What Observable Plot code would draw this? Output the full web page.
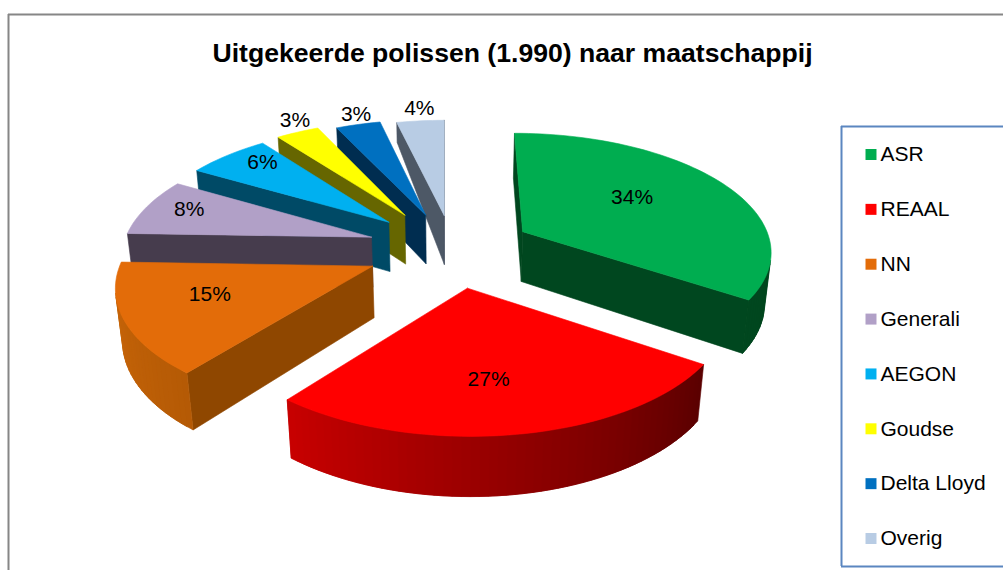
<!DOCTYPE html>
<html><head><meta charset="utf-8">
<style>html,body{margin:0;padding:0;background:#fff}svg{display:block}</style>
<script src="https://cdn.jsdelivr.net/npm/d3@7"></script>
<script src="https://cdn.jsdelivr.net/npm/@observablehq/plot@0.6"></script>
</head><body><div id="chart"></div>
<script>
const titleText = "Uitgekeerde polissen (1.990) naar maatschappij";
const names = ["ASR","REAAL","NN","Generali","AEGON","Goudse","Delta Lloyd","Overig"];
const shares = [34,27,15,7.8,6.2,3.2,3.3,3.5];
const topColors = ["#00ad50","#ff0000","#e36c09","#b1a0c7","#00b0f0","#ffff00","#0070c0","#b8cce4"];
const faceColors = ["#00471f","#640000","#8f4700","#463c4d","#004a66","#666600","#002d50","#4d5866"];
const arcFrom = ["#00471f","#5a0000","#b55a05","#463c4d","#004a66","#666600","#002d50","#4d5866"];
const arcTo = ["#00471f","#c80000","#cc680a","#463c4d","#004a66","#666600","#002d50","#4d5866"];
const explosion = [0.32,0.32,0.35,0.35,0.35,0.35,0.32,0.30];
const sideShift = [0,0,0,0,-0.01,-0.026,-0.014,-0.006];
const labelRadius = [0.6,0.65,0.66,0.83,0.86,1.13,1.05,1.0];
const labelNudgeX = [-13,-9.5,-1.5,5.5,14,10,1,-1];
const labelNudgeY = [-6,-1,-8,-3,-2,-2,-6,-13];
const outerDepth = [1,1,1,1,1,1,1,0.45];
const drawOrder = [7,6,5,4,3,2,0,1];

// perspective view of the tilted pie
const view = {xv:443, xo:10.5, yv:-750, c:1002.5, p:0.1175, a:250, apexLift:3.5, k:0.0508, nx:450, ny:2800};
const project = (u, v) => {
  const w = 1 - view.p * v;
  return [view.xv + (view.a * u + view.xo) / w, view.yv + view.c / w];
};
const lower = ([x, y], f = 1) => {
  const d = view.k * (y - view.yv) * f;
  return [x + (view.nx - x) * d / (view.ny - y), y + d];
};
const area2 = q => d3.sum(q, (p, i) => {
  const n = q[(i + 1) % q.length];
  return p[0] * n[1] - n[0] * p[1];
});

const total = d3.sum(shares);
let run = 0;
const slices = names.map((name, i) => {
  const a0 = run / total * 2 * Math.PI;
  run += shares[i];
  const a1 = run / total * 2 * Math.PI;
  const mid = (a0 + a1) / 2;
  const ou = explosion[i] * Math.sin(mid) + sideShift[i], ov = -explosion[i] * Math.cos(mid);
  const at = (a, r = 1) => project(ou + r * Math.sin(a), ov - r * Math.cos(a));
  const [ax, ay] = project(ou, ov);
  return {name, i, a0, a1, mid, at, apex: [ax, ay - view.apexLift]};
});

const polys = [];
const addPoly = (id, color, pts) => {
  [...pts, pts[0]].forEach(([x, y]) => polys.push({id, color, x, y}));
};
for (const i of drawOrder) {
  const s = slices[i];
  const fd = outerDepth[i];
  const apexB = lower(s.apex);
  const startFace = [s.apex, s.at(s.a0), lower(s.at(s.a0), fd), apexB];
  const endFace = [s.at(s.a1), s.apex, apexB, lower(s.at(s.a1), fd)];
  if (area2(startFace) < 0) addPoly(`${i}-start`, faceColors[i], startFace);
  if (area2(endFace) < 0) addPoly(`${i}-end`, faceColors[i], endFace);
  const n = Math.max(6, Math.round(shares[i] * 2));
  const mix = d3.interpolateRgb(arcFrom[i], arcTo[i]);
  for (let j = 0; j < n; j++) {
    const b0 = s.a0 + (s.a1 - s.a0) * j / n;
    const b1 = s.a0 + (s.a1 - s.a0) * (j + 1) / n;
    const b2 = Math.min(s.a1, b1 + (s.a1 - s.a0) / n);
    const q = [s.at(b0), s.at(b1), lower(s.at(b1)), lower(s.at(b0))];
    const wide = [s.at(b0), s.at(b2), lower(s.at(b2)), lower(s.at(b0))];
    if (area2(q) < 0) addPoly(`${i}-arc${j}`, d3.color(mix((j + 0.5) / n)).formatHex(), area2(wide) < 0 ? wide : q);
  }
  const m = Math.max(8, Math.round(shares[i] * 2));
  const topFace = [s.apex, ...d3.range(m + 1).map(j => s.at(s.a0 + (s.a1 - s.a0) * j / m))];
  addPoly(`${i}-top`, topColors[i], topFace);
}

const labels = slices.map(s => {
  const [x, y] = s.at(s.mid, labelRadius[s.i]);
  return {x: x + labelNudgeX[s.i], y: y + labelNudgeY[s.i], text: `${Math.round(shares[s.i])}%`};
});
const legendRows = names.map((name, i) => ({name, color: topColors[i], y: 154 + i * 54.86}));

const font = "Liberation Sans, Arial, sans-serif";
const frame = "#868686", legendLine = "#5b86c0";
const chart = Plot.plot({
  width: 1003, height: 570, margin: 0,
  x: {domain: [0, 1003], axis: null},
  y: {domain: [570, 0], axis: null},
  color: {type: "identity"},
  style: {background: "#fff"},
  marks: [
    Plot.ruleX([8], {y1: 14, y2: 570, stroke: frame, strokeWidth: 2}),
    Plot.ruleY([14], {x1: 8, x2: 1003, stroke: frame, strokeWidth: 2}),
    Plot.line(polys, {x: "x", y: "y", z: "id", fill: "color", stroke: "color", strokeWidth: 0.6, curve: "linear"}),
    Plot.text(labels, {x: "x", y: "y", text: "text", fontSize: 21, fontFamily: font, fill: "#000"}),
    Plot.text([titleText], {x: 512, y: 53, text: d => d, fontSize: 26.6, fontWeight: "bold", fontFamily: font, fill: "#000"}),
    Plot.ruleX([841], {y1: 126, y2: 566, stroke: legendLine, strokeWidth: 2}),
    Plot.ruleY([126, 566], {x1: 841, x2: 1003, stroke: legendLine, strokeWidth: 2}),
    Plot.dot(legendRows, {x: 870.5, y: "y", symbol: "square", r: 6.2, fill: "color"}),
    Plot.text(legendRows, {x: 880, y: "y", text: "name", textAnchor: "start", fontSize: 21, fontFamily: font, fill: "#000"})
  ]
});
document.getElementById("chart").append(chart);
</script></body></html>
